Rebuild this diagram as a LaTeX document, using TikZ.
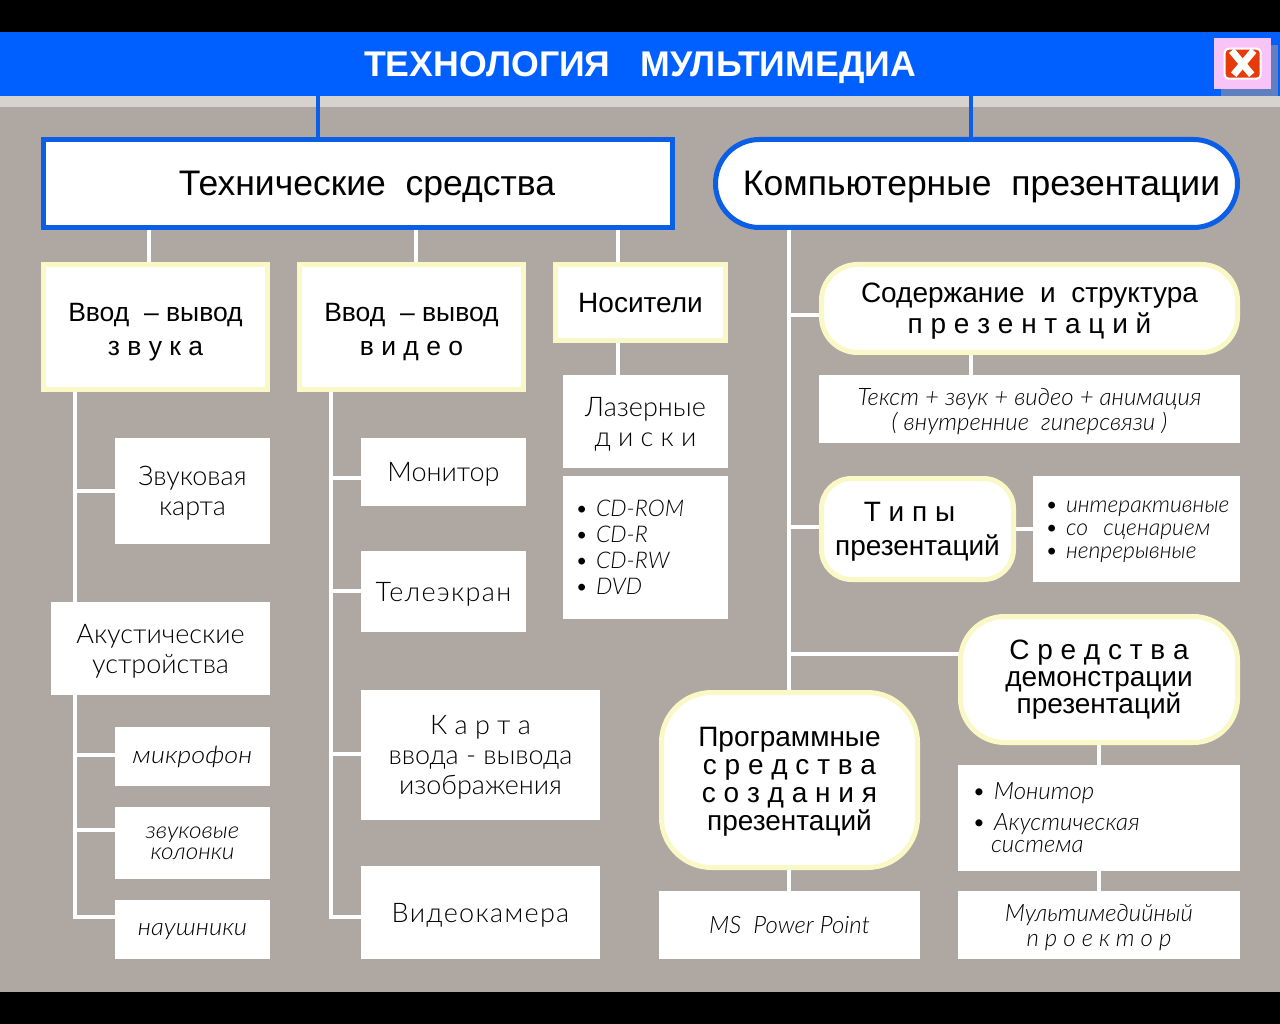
\documentclass[tikz,border=0pt]{standalone}
\usepackage{fontspec}
\setmainfont{Liberation Sans}
\newfontfamily\gothic{Lato}[UprightFont=* Light, ItalicFont=* Light Italic]
\usetikzlibrary{backgrounds}
\definecolor{barblue}{HTML}{0060FF}
\definecolor{edgeblue}{HTML}{0A5FE6}
\definecolor{palegold}{HTML}{FAF8C6}
\definecolor{wallgray}{HTML}{AFA7A1}
\definecolor{stripgray}{HTML}{D6D2CE}
\definecolor{btnpink}{HTML}{F8C4F8}
\definecolor{btnshade}{HTML}{5F7FC0}
\definecolor{btnred}{HTML}{E63A0A}
\tikzset{
  link/.style={white, line width=4pt},
  bluelink/.style={edgeblue, line width=4pt},
  whitebox/.style={fill=white, inner sep=0pt, outer sep=0pt, anchor=north west, align=center, text depth=0pt,
    font=\gothic\fontsize{27}{30}\selectfont},
  notebox/.style={whitebox, font=\gothic\itshape\fontsize{24}{25}\selectfont},
  listbox/.style={whitebox, align=left, text depth=, font=\gothic\itshape\fontsize{23}{26}\selectfont},
  headbox/.style={whitebox, draw=palegold, line width=5pt, font=\fontsize{26.5}{34}\selectfont},
  softbox/.style={headbox, rounded corners=#1, font=\fontsize{28}{27}\selectfont},
  mainbox/.style={headbox, draw=edgeblue, font=\fontsize{35.5}{40}\selectfont}
}
\begin{document}
\begin{tikzpicture}[x=1pt, y=-1pt]
  \useasboundingbox (0, 0) rectangle (1280, 1024);
  % top bar
  \node[fill=barblue, text=white, inner sep=0pt, outer sep=0pt, minimum width=1280pt, minimum height=64pt, text depth=0pt,
    font=\bfseries\fontsize{35.7}{40}\selectfont] (title) at (640, 64) {ТЕХНОЛОГИЯ~~~МУЛЬТИМЕДИА};
  % main boxes
  \node[mainbox, minimum width=629pt, minimum height=88pt] (tech) at (43.5, 139.5) {\hspace*{18pt}Технические~~средства};
  \node[mainbox, rounded corners=44pt, minimum width=522pt, minimum height=88pt] (komp) at (715.5, 139.5) {\hspace*{10pt}Компьютерные~~презентации};
  % left branch heads
  \node[headbox, text height=57pt, minimum width=224pt, minimum height=125pt] (vvodzv) at (43.5, 264.5) {Ввод~~– вывод\\з в у к а};
  \node[headbox, text height=57pt, minimum width=224pt, minimum height=125pt] (vvodvd) at (299.5, 264.5) {Ввод~~– вывод\\в и д е о};
  \node[headbox, minimum width=170pt, minimum height=76pt, font=\fontsize{28}{34}\selectfont] (nosit) at (555.5, 264.5) {Носители};
  % sound column
  \node[whitebox, minimum width=155pt, minimum height=106pt] (zvkarta) at (115, 438) {Звуковая\\карта};
  \node[whitebox, minimum width=219pt, minimum height=93pt] (akust) at (51, 602) {Акустические\\устройства};
  \node[notebox, text depth=4pt, minimum width=155pt, minimum height=59pt,
    font=\gothic\itshape\fontsize{24}{25}\selectfont\addfontfeature{FakeStretch=1.13}] (mikro) at (115, 727) {микрофон};
  \node[notebox, minimum width=155pt, minimum height=72pt,
    font=\gothic\itshape\fontsize{23}{21}\selectfont\addfontfeature{FakeStretch=1.06}] (kolonki) at (115, 807) {звуковые\\колонки};
  \node[notebox, minimum width=155pt, minimum height=59pt,
    font=\gothic\itshape\fontsize{24}{25}\selectfont\addfontfeature{FakeStretch=1.07}] (naush) at (115, 900) {наушники};
  % video column
  \node[whitebox, minimum width=165pt, minimum height=68pt] (monitor) at (361, 438) {Монитор};
  \node[whitebox, minimum width=165pt, minimum height=81pt, font=\gothic\fontsize{27}{30}\selectfont\addfontfeature{LetterSpace=5}] (ekran) at (361, 551) {Телеэкран};
  \node[whitebox, minimum width=239pt, minimum height=130pt] (vvodkarta) at (361, 690) {К а р т а\\ввода - вывода\\изображения};
  \node[whitebox, minimum width=239pt, minimum height=93pt, font=\gothic\fontsize{27}{30}\selectfont\addfontfeature{LetterSpace=5}] (kamera) at (361, 866) {Видеокамера};
  % media column
  \node[whitebox, minimum width=165pt, minimum height=93pt] (laser) at (563, 375) {Лазерные\\д и с к и};
  \node[listbox, inner xsep=12pt, text width=141pt, minimum height=143pt] (diski) at (563, 476)
    {•~CD-ROM\\•~CD-R\\•~CD-RW\\•~DVD};
  % presentation side
  \node[softbox=36pt, minimum width=416pt, minimum height=88pt, font=\fontsize{28}{31}\selectfont] (sod) at (821.5, 264.5) {Содержание~~и~~структура\\п р е з е н т а ц и й};
  \node[notebox, minimum width=421pt, minimum height=68pt] (tekst) at (819, 375) {Текст + звук + видео + анимация\\( внутренние~~гиперсвязи )};
  \node[softbox=30pt, minimum width=192pt, minimum height=101pt, font=\fontsize{28}{34}\selectfont] (tipy) at (821.5, 478.5) {Т и п ы\hspace*{16pt}\\презентаций};
  \node[listbox, inner xsep=12pt, text width=183pt, minimum height=106pt, font=\gothic\itshape\fontsize{23}{23}\selectfont] (vidy) at (1033, 476)
    {\mbox{}\\[-6pt]•~интерактивные\\•~со~~сценарием\\•~непрерывные};
  \node[softbox=44pt, minimum width=277pt, minimum height=126pt, text depth=] (sredstva) at (960.5, 616.5) {С р е д с т в а\\демонстрации\\презентаций};
  \node[listbox, inner xsep=14pt, text width=254pt, minimum height=106pt, font=\gothic\itshape\fontsize{24}{22}\selectfont] (vyvod) at (958, 765)
    {•~Монитор\\[9pt]•~Акустическая\\\hspace*{19pt}система};
  \node[notebox, minimum width=282pt, minimum height=68pt] (proektor) at (958, 891) {Мультимедийный\\п р о е к т о р};
  \node[softbox=50pt, text depth=2pt, minimum width=256pt, minimum height=175pt, font=\fontsize{28}{28}\selectfont] (prog) at (661.5, 692.5) {Программные\\с р е д с т в а\\с о з д а н и я\\презентаций};
  \node[notebox, minimum width=261pt, minimum height=68pt] (power) at (659, 891) {MS~~Power Point};
  % close button
  \fill[btnshade] (1221, 45) rectangle (1278, 96);
  \node[fill=btnpink, anchor=north west, inner sep=0pt, minimum width=57pt, minimum height=51pt] (closebtn) at (1214, 38) {};
  \node[fill=btnred, draw=white, line width=2pt, rounded corners=4pt, inner sep=0pt, minimum width=36pt, minimum height=30pt] (closeicon) at (closebtn.center) {};
  \draw[white, line width=7pt] (closeicon.north west) ++(8, 3) -- ++(20, 24);
  \draw[white, line width=7pt] (closeicon.north east) ++(-8, 3) -- ++(-20, 24);
  % connectors go behind the boxes
  \begin{scope}[on background layer]
    \fill[wallgray] (0, 0) rectangle (1280, 1024);
    \fill[stripgray] (0, 96) rectangle (1280, 107);
    \fill[black] (0, 0) rectangle (1280, 32);
    \fill[black] (0, 992) rectangle (1280, 1024);
    \draw[bluelink] (318,0 |- title.south) -- (318,0 |- tech.north);
    \draw[bluelink] (971,0 |- title.south) -- (971,0 |- komp.north);
    \foreach \x/\a/\b in {149/tech/vvodzv, 416/tech/vvodvd, 618/tech/nosit, 618/nosit/laser, 971/sod/tekst,
                          1099/sredstva/vyvod, 1099/vyvod/proektor, 789/prog/power}
      \draw[link] (\x,0 |- \a.south) -- (\x,0 |- \b.north);
    % trunks
    \draw[link] (75,0 |- vvodzv.south) |- (naush.west |- 0,917);
    \draw[link] (331,0 |- vvodvd.south) |- (kamera.west |- 0,917);
    \draw[link] (789,0 |- komp.south) -- (789,0 |- prog.north);
    \foreach \n/\y in {zvkarta/491, mikro/755, kolonki/830}
      \draw[link] (75,\y) -- (\n.west |- 0,\y);
    \foreach \n/\y in {monitor/478, ekran/591, vvodkarta/754}
      \draw[link] (331,\y) -- (\n.west |- 0,\y);
    \foreach \n/\y in {sod/315, tipy/527, sredstva/654}
      \draw[link] (789,\y) -- (\n.west |- 0,\y);
    \draw[link] (tipy.east) -- (vidy.west);
  \end{scope}
\end{tikzpicture}
\end{document}
